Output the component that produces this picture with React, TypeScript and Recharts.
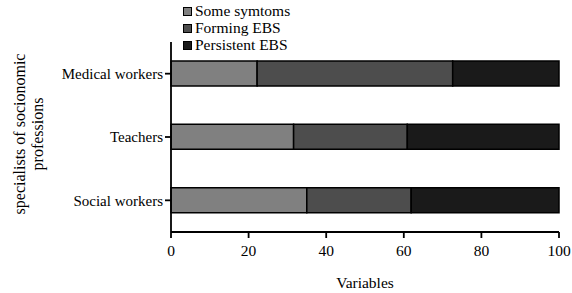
import { BarChart, Bar, XAxis, YAxis } from "recharts";

const groups = ["Medical workers", "Teachers", "Social workers"];
const someSymptoms = [22.2, 31.6, 35];
const formingEBS = [50.4, 29.3, 26.9];
const persistentEBS = [27.4, 39.1, 38.1];
const xTicks = [0, 20, 40, 60, 80, 100];

const SERIES = [
  { key: "some", label: "Some symtoms", color: "#808080" },
  { key: "forming", label: "Forming EBS", color: "#4d4d4d" },
  { key: "persistent", label: "Persistent EBS", color: "#1a1a1a" },
];

const FONT = "'Liberation Serif', 'Times New Roman', serif";

const data = groups.map((g, i) => ({
  group: g,
  some: someSymptoms[i],
  forming: formingEBS[i],
  persistent: persistentEBS[i],
}));

function LegendBox() {
  return (
    <div
      style={{
        position: "absolute",
        top: 2,
        left: 183,
        fontFamily: FONT,
        fontSize: 15.5,
        color: "#000",
        lineHeight: "17px",
      }}
    >
      {SERIES.map((s) => (
        <div key={s.key} style={{ display: "flex", alignItems: "center" }}>
          <span
            style={{
              display: "inline-block",
              width: 7,
              height: 7,
              background: s.color,
              border: "1.5px solid #000",
              marginRight: 3,
              marginTop: 2,
            }}
          />
          {s.label}
        </div>
      ))}
    </div>
  );
}

function YLabel() {
  return (
    <g>
      <text
        x={0}
        y={0}
        transform="translate(25, 134) rotate(-90)"
        textAnchor="middle"
        fontFamily={FONT}
        fontSize={16}
        fill="#000"
      >
        specialists of socionomic
      </text>
      <text
        x={0}
        y={0}
        transform="translate(43, 134) rotate(-90)"
        textAnchor="middle"
        fontFamily={FONT}
        fontSize={16}
        fill="#000"
      >
        professions
      </text>
    </g>
  );
}

export default function App() {
  return (
    <div style={{ position: "absolute", top: 0, left: 0, width: 572, height: 293, background: "#fff" }}>
      <BarChart
        width={572}
        height={293}
        data={data}
        layout="vertical"
        margin={{ top: 42, right: 13, bottom: 0, left: 0 }}
        barCategoryGap={19}
        style={{ overflow: "visible" }}
      >
        <XAxis
          type="number"
          domain={[0, 100]}
          ticks={xTicks}
          height={61}
          axisLine={{ stroke: "#000", strokeWidth: 1.8 }}
          tickLine={{ stroke: "#000", strokeWidth: 1.8 }}
          tickSize={6}
          tickMargin={7}
          tick={{ fill: "#000", fontFamily: FONT, fontSize: 15.5 }}
          label={{
            value: "Variables",
            position: "insideBottom",
            offset: 5,
            fill: "#000",
            fontFamily: FONT,
            fontSize: 15.5,
          }}
        />
        <YAxis
          type="category"
          dataKey="group"
          width={171}
          axisLine={{ stroke: "#000", strokeWidth: 1.8 }}
          tickLine={{ stroke: "#000", strokeWidth: 1.8 }}
          tickSize={6}
          tick={{ fill: "#000", fontFamily: FONT, fontSize: 15 }}
          label={<YLabel />}
        />
        {SERIES.map((s) => (
          <Bar
            key={s.key}
            dataKey={s.key}
            stackId="a"
            fill={s.color}
            stroke="#000"
            strokeWidth={1.5}
            barSize={25}
            isAnimationActive={false}
          />
        ))}
      </BarChart>
      <LegendBox />
    </div>
  );
}
